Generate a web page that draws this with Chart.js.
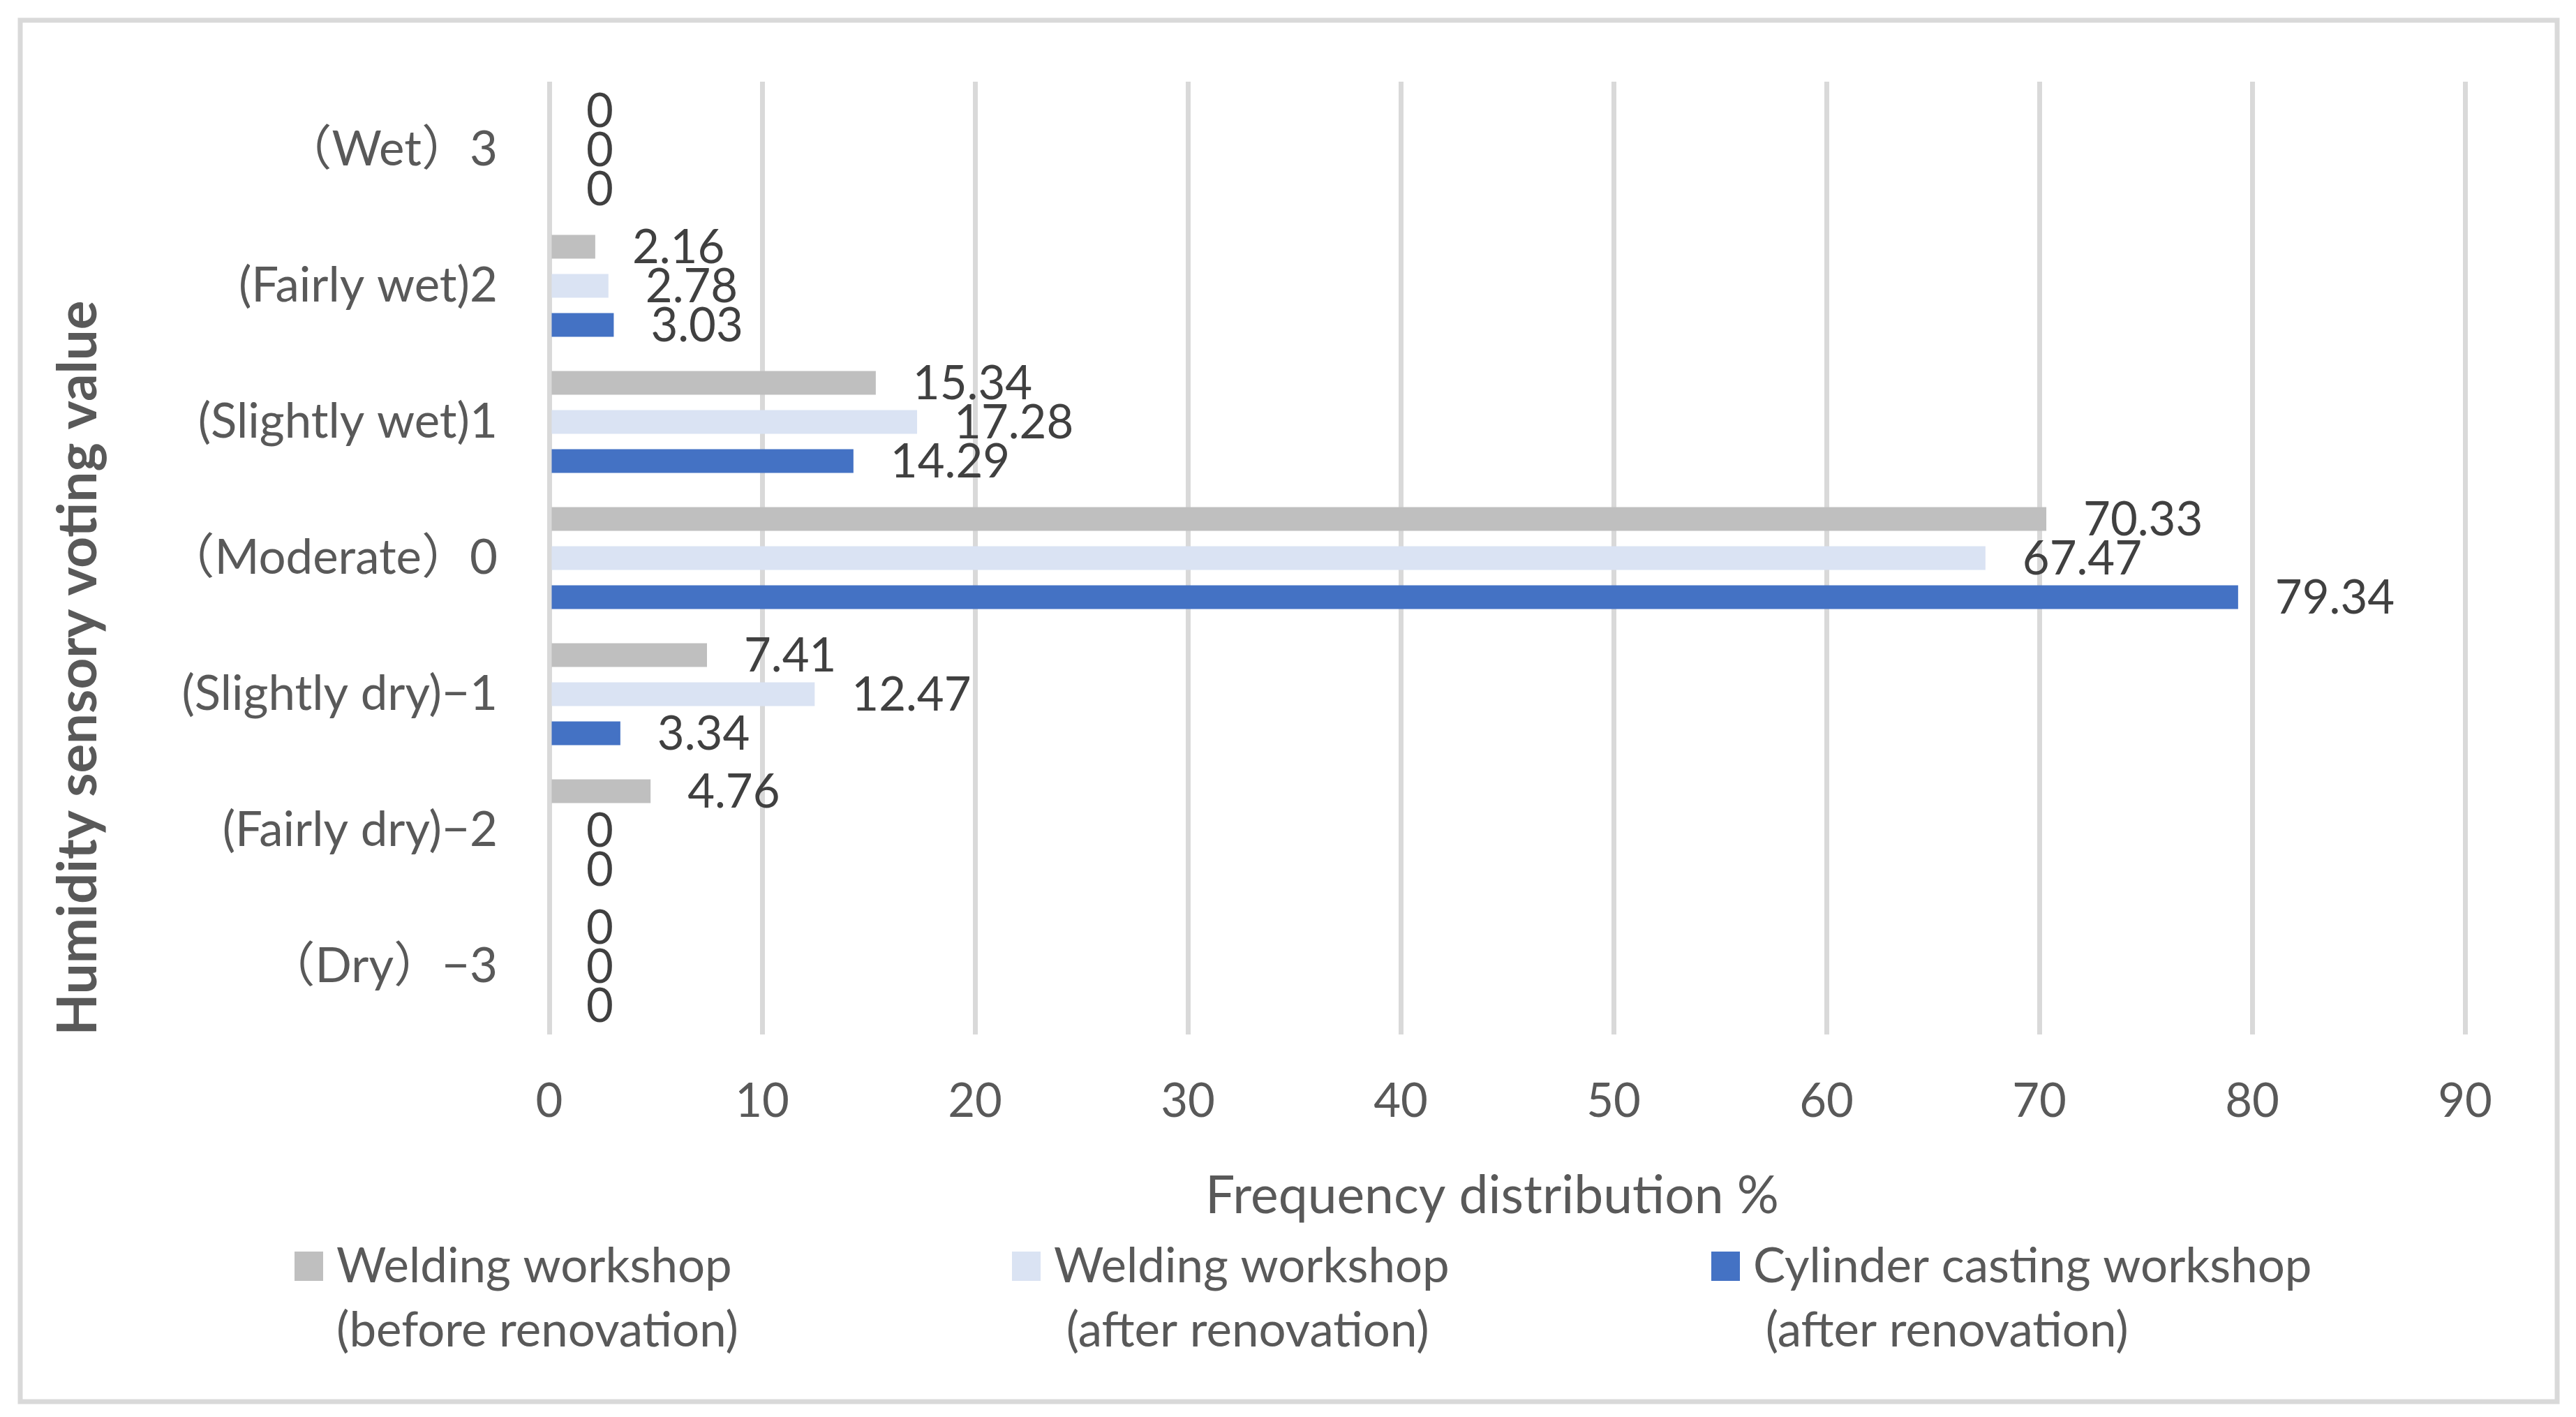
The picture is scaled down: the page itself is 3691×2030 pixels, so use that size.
<!DOCTYPE html>
<html>
<head>
<meta charset="utf-8">
<script src="https://cdn.jsdelivr.net/npm/chart.js@4.4.1/dist/chart.umd.min.js"></script>
<style>
  html, body { margin: 0; padding: 0; background: #fff; }
  canvas { display: block; }
</style>
</head>
<body>
<canvas id="humidityChart" width="3691" height="2030"></canvas>
<script>
// categories, top to bottom as shown
const categories = ['（Wet）3', '(Fairly wet)2', '(Slightly wet)1', '（Moderate）0', '(Slightly dry)−1', '(Fairly dry)−2', '（Dry）−3'];

// frequency distribution %
const weldingBefore = [0, 2.16, 15.34, 70.33, 7.41, 4.76, 0];
const weldingAfter = [0, 2.78, 17.28, 67.47, 12.47, 0, 0];
const castingAfter = [0, 3.03, 14.29, 79.34, 3.34, 0, 0];

const xTicks = [0, 10, 20, 30, 40, 50, 60, 70, 80, 90];

const seriesNames = [
    ['Welding workshop', '(before renovation)'],
    ['Welding workshop', ' (after renovation)'],
    ['Cylinder casting workshop', ' (after renovation)']
];
const seriesColors = ['#BFBFBF', '#DAE3F3', '#4472C4'];

const FONT = "Lato, 'Noto Sans CJK SC', sans-serif";
const TEXT = '#595959';

/* white page, outer frame, titles, legend */
const decorations = {
    id: 'decorations',
    beforeDraw(chart) {
        const c = chart.ctx;
        c.save();
        c.fillStyle = '#ffffff';
        c.fillRect(0, 0, chart.width, chart.height);
        c.restore();
    },
    afterDraw(chart) {
        const c = chart.ctx;
        c.save();
        // frame
        c.strokeStyle = '#D9D9D9';
        c.lineWidth = 7;
        c.strokeRect(29, 29, 3635, 1979);

        c.fillStyle = TEXT;
        // y title
        c.save();
        c.translate(138, 957);
        c.rotate(-Math.PI / 2);
        c.font = 'bold 78px ' + FONT;
        c.textAlign = 'center';
        c.textBaseline = 'alphabetic';
        c.fillText('Humidity sensory voting value', 0, 0);
        c.restore();

        // x title
        c.font = '75px ' + FONT;
        c.textAlign = 'center';
        c.textBaseline = 'alphabetic';
        c.fillText('Frequency distribution %', 2138, 1738);

        // legend
        const legendX = [422, 1450, 2452];
        c.font = '69px ' + FONT;
        c.textAlign = 'left';
        seriesNames.forEach((lines, i) => {
            c.fillStyle = seriesColors[i];
            c.fillRect(legendX[i], 1793, 41, 42);
            c.fillStyle = TEXT;
            c.fillText(lines[0], legendX[i] + 60, 1837);
            c.fillText(lines[1], legendX[i] + 60, 1929);
        });
        c.restore();
    }
};

/* value labels at bar ends */
const valueLabels = {
    id: 'valueLabels',
    afterDatasetsDraw(chart) {
        const c = chart.ctx;
        c.save();
        c.font = '67px ' + FONT;
        c.fillStyle = '#404040';
        c.textAlign = 'left';
        c.textBaseline = 'middle';
        chart.data.datasets.forEach((ds, i) => {
            chart.getDatasetMeta(i).data.forEach((bar, j) => {
                c.fillText(String(ds.data[j]), bar.x + 53, bar.y + 2);
            });
        });
        c.restore();
    }
};

new Chart(document.getElementById('humidityChart'), {
    type: 'bar',
    data: {
        labels: categories,
        datasets: [{
            label: seriesNames[0].join(' '),
            data: weldingBefore,
            backgroundColor: seriesColors[0]
        }, {
            label: seriesNames[1].join(' '),
            data: weldingAfter,
            backgroundColor: seriesColors[1]
        }, {
            label: seriesNames[2].join(' '),
            data: castingAfter,
            backgroundColor: seriesColors[2]
        }]
    },
    options: {
        indexAxis: 'y',
        responsive: false,
        devicePixelRatio: 1,
        animation: false,
        categoryPercentage: 0.862,
        barPercentage: 0.607,
        layout: {
            padding: { top: 117, right: 159, left: 0, bottom: 0 }
        },
        scales: {
            x: {
                min: 0,
                max: 90,
                afterBuildTicks: (scale) => {
                    scale.ticks = xTicks.map(v => ({ value: v }));
                },
                afterFit: (scale) => { scale.height = 548; },
                grid: { color: '#D9D9D9', lineWidth: 7, drawTicks: false },
                border: { display: false },
                ticks: {
                    padding: 56,
                    color: TEXT,
                    font: { family: FONT, size: 67, lineHeight: 1.2 }
                }
            },
            y: {
                afterFit: (scale) => { scale.width = 787; },
                grid: { display: false, drawTicks: false },
                border: { display: false },
                ticks: {
                    padding: 74,
                    color: TEXT,
                    font: { family: FONT, size: 69 }
                }
            }
        },
        plugins: {
            legend: { display: false },
            tooltip: { enabled: false }
        }
    },
    plugins: [decorations, valueLabels]
});
</script>
</body>
</html>
